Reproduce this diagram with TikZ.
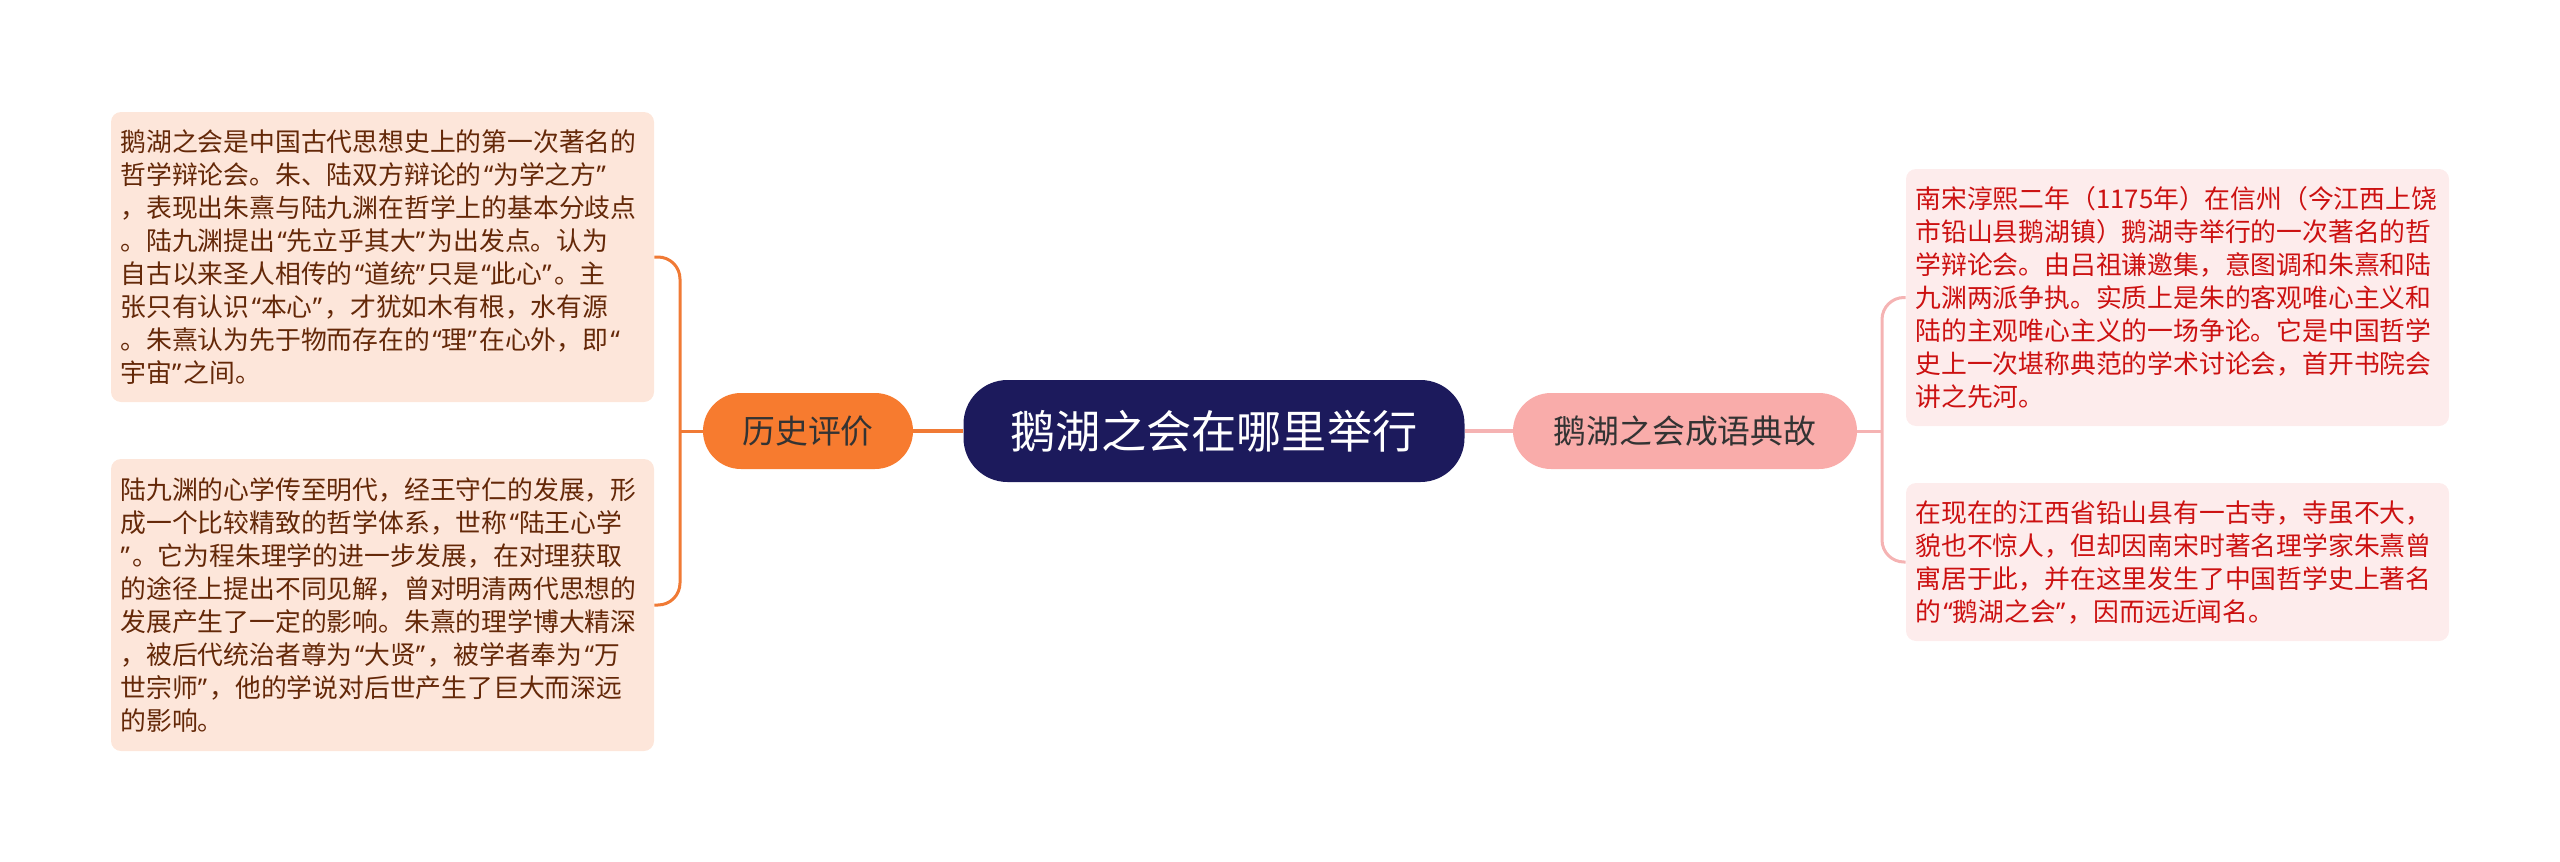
\documentclass[tikz,border=0pt]{standalone}
\usepackage{fontspec}
\setmainfont{Noto Sans CJK SC}
\newfontfamily\qfont{Noto Sans}
\newcommand\oq{\kern1.2pt{\qfont “}}
\newcommand\cq{{\qfont ”}\kern1.2pt}
\definecolor{navy}{HTML}{1C1A5C}
\definecolor{histfill}{HTML}{F77B2F}
\definecolor{histline}{HTML}{F07A35}
\definecolor{histbox}{HTML}{FDE6DA}
\definecolor{histtext}{HTML}{642808}
\definecolor{storyfill}{HTML}{F9ACAA}
\definecolor{storyline}{HTML}{F5B3B3}
\definecolor{storybox}{HTML}{FDECEC}
\definecolor{storytext}{HTML}{CC1111}
\definecolor{darktext}{HTML}{333333}

\begin{document}
\begin{tikzpicture}[x=0.5pt, y=-0.5pt,
    topic/.style={fill=navy, text=white, rounded corners=22pt,
      minimum width=250.5pt, minimum height=51pt,
      font=\fontsize{22.6}{26}\selectfont},
    branch/.style={rounded corners=19pt, minimum height=38pt, text=darktext,
      font=\fontsize{16.4}{20}\selectfont},
    leaf/.style={rounded corners=5pt, text width=262pt, inner xsep=4.75pt,
      align=left, font=\fontsize{12.9}{16.5}\selectfont},
    link/.style={line width=1.5pt, rounded corners=11pt}]
  \useasboundingbox (0,0) rectangle (2560,862);

  \node[topic] (center) at (1214, 431) {鹅湖之会在哪里举行};
  \node[branch, fill=histfill, minimum width=105pt] (hist) at (808, 431) {历史评价};
  \node[branch, fill=storyfill, minimum width=172pt] (story) at (1685, 431) {鹅湖之会成语典故};

  \node[leaf, fill=histbox, text=histtext, minimum height=145pt] (h1) at (382.5, 257) {%
    鹅湖之会是中国古代思想史上的第一次著名的\\
    哲学辩论会。朱、陆双方辩论的\oq 为学之方\cq\\
    ，表现出朱熹与陆九渊在哲学上的基本分歧点\\
    。陆九渊提出\oq 先立乎其大\cq 为出发点。认为\\
    自古以来圣人相传的\oq 道统\cq 只是\oq 此心\cq 。主\\
    张只有认识\oq 本心\cq ，才犹如木有根，水有源\\
    。朱熹认为先于物而存在的\oq 理\cq 在心外，即\oq\\
    宇宙\cq 之间。};
  \node[leaf, fill=histbox, text=histtext, minimum height=146pt] (h2) at (382.5, 605) {%
    陆九渊的心学传至明代，经王守仁的发展，形\\
    成一个比较精致的哲学体系，世称\oq 陆王心学\\
    \cq 。它为程朱理学的进一步发展，在对理获取\\
    的途径上提出不同见解，曾对明清两代思想的\\
    发展产生了一定的影响。朱熹的理学博大精深\\
    ，被后代统治者尊为\oq 大贤\cq ，被学者奉为\oq 万\\
    世宗师\cq ，他的学说对后世产生了巨大而深远\\
    的影响。};

  \node[leaf, fill=storybox, text=storytext, minimum height=128.5pt] (s1) at (2177.5, 297.5) {%
    南宋淳熙二年（1175年）在信州（今江西上饶\\
    市铅山县鹅湖镇）鹅湖寺举行的一次著名的哲\\
    学辩论会。由吕祖谦邀集，意图调和朱熹和陆\\
    九渊两派争执。实质上是朱的客观唯心主义和\\
    陆的主观唯心主义的一场争论。它是中国哲学\\
    史上一次堪称典范的学术讨论会，首开书院会\\
    讲之先河。};
  \node[leaf, fill=storybox, text=storytext, minimum height=79pt] (s2) at (2177.5, 562) {%
    在现在的江西省铅山县有一古寺，寺虽不大，\\
    貌也不惊人，但却因南宋时著名理学家朱熹曾\\
    寓居于此，并在这里发生了中国哲学史上著名\\
    的\oq 鹅湖之会\cq ，因而远近闻名。};

  \coordinate (lj) at (680, 431);
  \coordinate (rj) at (1882, 431);

  \draw[link, histline, line width=2pt] (center.west) -- (hist.east);
  \draw[link, histline] (hist.west) -- (lj);
  \draw[link, histline] (h1.east) -| (lj) |- (h2.east);

  \draw[link, storyline, line width=2pt] (center.east) -- (story.west);
  \draw[link, storyline] (story.east) -- (rj);
  \draw[link, storyline] (s1.west) -| (rj) |- (s2.west);
\end{tikzpicture}
\end{document}
